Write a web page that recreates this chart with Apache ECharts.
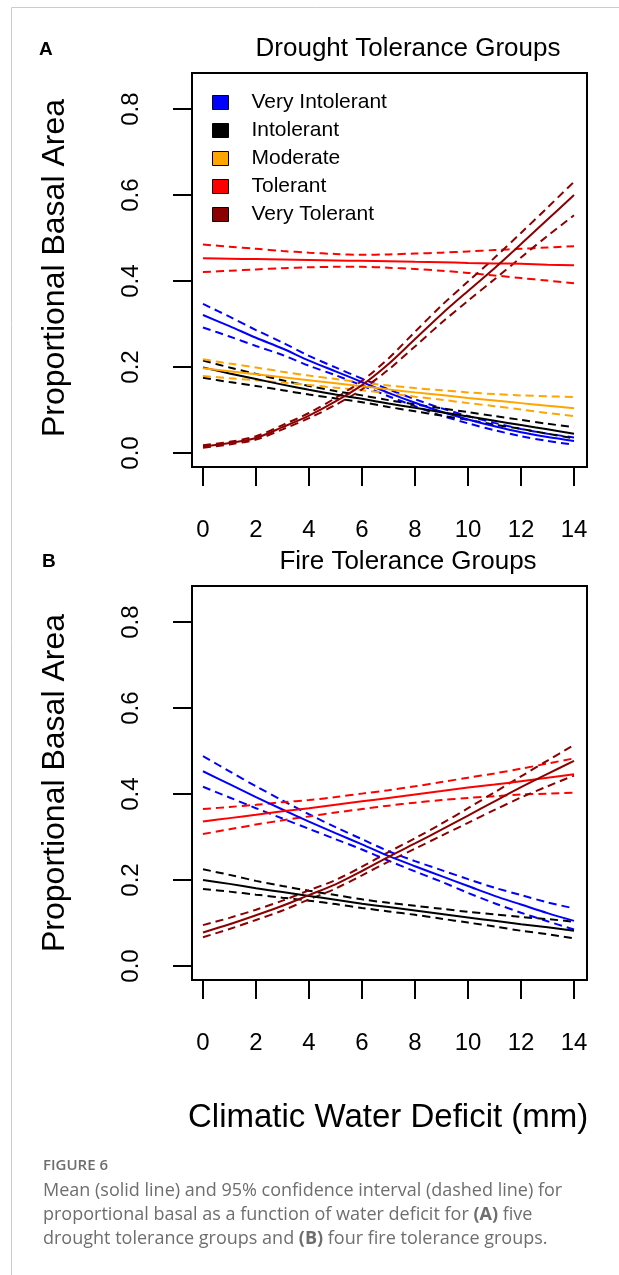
<!DOCTYPE html>
<html>
<head>
<meta charset="utf-8">
<script src="https://cdn.jsdelivr.net/npm/echarts@6/dist/echarts.min.js"></script>
<style>
  html, body { margin: 0; padding: 0; background: #ffffff; }
  #chart { width: 619px; height: 1275px; }
</style>
</head>
<body>
<div id="chart"></div>
<script>
// Climatic water deficit (mm) at which the fitted curves are evaluated
const deficit = [0, 1, 2, 3, 4, 5, 6, 7, 8, 9, 10, 11, 12, 13, 14];
const xTicks = [0, 2, 4, 6, 8, 10, 12, 14];
const yTicks = [0, 0.2, 0.4, 0.6, 0.8];

const droughtGroups = ['Very Intolerant', 'Intolerant', 'Moderate', 'Tolerant', 'Very Tolerant'];
const fireGroups = ['Very Intolerant', 'Intolerant', 'Tolerant', 'Very Tolerant'];

// (A) drought tolerance groups: mean and 95% CI of proportional basal area
const droughtVeryIntolerantMean  = [0.321, 0.295, 0.268, 0.243, 0.215, 0.190, 0.165, 0.140, 0.117, 0.096, 0.078, 0.062, 0.048, 0.037, 0.028];
const droughtVeryIntolerantUpper = [0.347, 0.317, 0.286, 0.257, 0.226, 0.199, 0.173, 0.148, 0.125, 0.104, 0.086, 0.070, 0.056, 0.045, 0.036];
const droughtVeryIntolerantLower = [0.292, 0.271, 0.249, 0.228, 0.203, 0.181, 0.157, 0.132, 0.109, 0.087, 0.069, 0.053, 0.039, 0.028, 0.019];

const droughtIntolerantMean  = [0.199, 0.185, 0.172, 0.159, 0.147, 0.136, 0.126, 0.115, 0.105, 0.095, 0.085, 0.075, 0.065, 0.055, 0.045];
const droughtIntolerantUpper = [0.215, 0.199, 0.184, 0.169, 0.156, 0.144, 0.134, 0.123, 0.113, 0.104, 0.095, 0.086, 0.077, 0.068, 0.060];
const droughtIntolerantLower = [0.175, 0.165, 0.156, 0.146, 0.136, 0.127, 0.118, 0.107, 0.097, 0.087, 0.077, 0.066, 0.056, 0.045, 0.034];

const droughtModerateMean  = [0.197, 0.190, 0.183, 0.176, 0.169, 0.162, 0.155, 0.148, 0.141, 0.135, 0.128, 0.122, 0.116, 0.110, 0.104];
const droughtModerateUpper = [0.218, 0.208, 0.199, 0.189, 0.180, 0.172, 0.164, 0.157, 0.151, 0.146, 0.141, 0.137, 0.134, 0.132, 0.130];
const droughtModerateLower = [0.179, 0.174, 0.169, 0.164, 0.158, 0.152, 0.146, 0.139, 0.131, 0.124, 0.116, 0.109, 0.101, 0.093, 0.086];

const droughtTolerantMean  = [0.453, 0.452, 0.451, 0.450, 0.449, 0.448, 0.447, 0.446, 0.445, 0.444, 0.442, 0.441, 0.440, 0.438, 0.437];
const droughtTolerantUpper = [0.485, 0.480, 0.475, 0.470, 0.466, 0.463, 0.461, 0.462, 0.464, 0.466, 0.469, 0.472, 0.475, 0.478, 0.481];
const droughtTolerantLower = [0.421, 0.424, 0.427, 0.430, 0.432, 0.433, 0.433, 0.431, 0.428, 0.424, 0.419, 0.413, 0.407, 0.401, 0.395];

const droughtVeryTolerantMean  = [0.015, 0.023, 0.035, 0.060, 0.087, 0.120, 0.158, 0.207, 0.265, 0.323, 0.377, 0.430, 0.486, 0.543, 0.600];
const droughtVeryTolerantUpper = [0.018, 0.026, 0.039, 0.065, 0.093, 0.128, 0.168, 0.220, 0.282, 0.343, 0.399, 0.454, 0.512, 0.571, 0.631];
const droughtVeryTolerantLower = [0.012, 0.020, 0.031, 0.055, 0.081, 0.112, 0.148, 0.194, 0.248, 0.303, 0.354, 0.404, 0.455, 0.505, 0.553];

// (B) fire tolerance groups
const fireVeryIntolerantMean  = [0.453, 0.423, 0.393, 0.364, 0.336, 0.309, 0.283, 0.256, 0.232, 0.209, 0.186, 0.163, 0.143, 0.123, 0.105];
const fireVeryIntolerantUpper = [0.488, 0.453, 0.418, 0.385, 0.353, 0.323, 0.295, 0.267, 0.244, 0.223, 0.202, 0.182, 0.165, 0.148, 0.134];
const fireVeryIntolerantLower = [0.417, 0.392, 0.367, 0.343, 0.319, 0.295, 0.271, 0.245, 0.220, 0.196, 0.170, 0.146, 0.124, 0.104, 0.085];

const fireIntolerantMean  = [0.200, 0.191, 0.181, 0.172, 0.163, 0.154, 0.145, 0.137, 0.129, 0.121, 0.113, 0.105, 0.097, 0.090, 0.082];
const fireIntolerantUpper = [0.225, 0.212, 0.198, 0.186, 0.175, 0.165, 0.155, 0.147, 0.140, 0.133, 0.126, 0.120, 0.114, 0.109, 0.103];
const fireIntolerantLower = [0.179, 0.173, 0.166, 0.159, 0.152, 0.144, 0.135, 0.127, 0.119, 0.110, 0.101, 0.092, 0.082, 0.074, 0.064];

const fireTolerantMean  = [0.336, 0.344, 0.352, 0.360, 0.367, 0.375, 0.383, 0.391, 0.399, 0.407, 0.415, 0.422, 0.430, 0.438, 0.446];
const fireTolerantUpper = [0.365, 0.370, 0.375, 0.381, 0.386, 0.393, 0.401, 0.409, 0.418, 0.428, 0.438, 0.448, 0.459, 0.471, 0.483];
const fireTolerantLower = [0.307, 0.318, 0.329, 0.339, 0.348, 0.357, 0.365, 0.373, 0.380, 0.386, 0.391, 0.395, 0.399, 0.401, 0.403];

const fireVeryTolerantMean  = [0.078, 0.097, 0.118, 0.140, 0.165, 0.190, 0.221, 0.254, 0.285, 0.317, 0.350, 0.383, 0.416, 0.447, 0.477];
const fireVeryTolerantUpper = [0.095, 0.112, 0.131, 0.152, 0.176, 0.200, 0.231, 0.265, 0.297, 0.331, 0.367, 0.404, 0.441, 0.478, 0.514];
const fireVeryTolerantLower = [0.067, 0.086, 0.107, 0.129, 0.155, 0.180, 0.211, 0.243, 0.273, 0.303, 0.333, 0.363, 0.392, 0.418, 0.443];

const groupColors = {
  'Very Intolerant': '#0000FF',
  'Intolerant': '#000000',
  'Moderate': '#FFA500',
  'Tolerant': '#FF0000',
  'Very Tolerant': '#8B0000'
};

const FONT = '"Liberation Sans", Arial, sans-serif';
const CAPTION_FONT = '"Open Sans", "Noto Sans", sans-serif';

function pairs(values) {
  return deficit.map((x, i) => [x, values[i]]);
}

// One solid mean curve plus two dashed confidence limits for a group
function groupSeries(panel, name, mean, upper, lower) {
  const color = groupColors[name];
  const base = {
    type: 'line',
    xAxisIndex: panel,
    yAxisIndex: panel,
    showSymbol: false,
    symbol: 'none',
    smooth: 0.3,
    silent: true,
    animation: false,
    itemStyle: { color: color }
  };
  return [
    Object.assign({}, base, { name: name, data: pairs(mean), z: 3,
      lineStyle: { color: color, width: 2, type: 'solid' } }),
    Object.assign({}, base, { name: name + ' upper 95% CI', data: pairs(upper), z: 2,
      lineStyle: { color: color, width: 2, type: [8, 5] } }),
    Object.assign({}, base, { name: name + ' lower 95% CI', data: pairs(lower), z: 2,
      lineStyle: { color: color, width: 2, type: [8, 5] } })
  ];
}

const series = [].concat(
  groupSeries(0, 'Very Intolerant', droughtVeryIntolerantMean, droughtVeryIntolerantUpper, droughtVeryIntolerantLower),
  groupSeries(0, 'Intolerant', droughtIntolerantMean, droughtIntolerantUpper, droughtIntolerantLower),
  groupSeries(0, 'Moderate', droughtModerateMean, droughtModerateUpper, droughtModerateLower),
  groupSeries(0, 'Tolerant', droughtTolerantMean, droughtTolerantUpper, droughtTolerantLower),
  groupSeries(0, 'Very Tolerant', droughtVeryTolerantMean, droughtVeryTolerantUpper, droughtVeryTolerantLower),
  groupSeries(1, 'Very Intolerant', fireVeryIntolerantMean, fireVeryIntolerantUpper, fireVeryIntolerantLower),
  groupSeries(1, 'Intolerant', fireIntolerantMean, fireIntolerantUpper, fireIntolerantLower),
  groupSeries(1, 'Tolerant', fireTolerantMean, fireTolerantUpper, fireTolerantLower),
  groupSeries(1, 'Very Tolerant', fireVeryTolerantMean, fireVeryTolerantUpper, fireVeryTolerantLower)
);

function makeXAxis(idx) {
  return {
    type: 'value', gridIndex: idx, min: -0.415, max: 14.49,
    splitLine: { show: false },
    axisLine: { show: false, onZero: false },
    axisTick: { show: true, customValues: xTicks, length: 19, lineStyle: { color: '#000', width: 2 } },
    axisLabel: { show: true, customValues: xTicks, margin: 51, fontSize: 24, fontFamily: FONT, color: '#000' }
  };
}

function makeYAxis(idx) {
  return {
    type: 'value', gridIndex: idx, min: -0.0326, max: 0.884,
    splitLine: { show: false },
    axisLine: { show: false, onZero: false },
    axisTick: { show: true, customValues: yTicks, length: 19, lineStyle: { color: '#000', width: 2 } },
    axisLabel: { show: true, customValues: yTicks, rotate: 90, margin: 49, fontSize: 24, fontFamily: FONT, color: '#000',
      formatter: v => Number(v).toFixed(1) }
  };
}

function gridBox(top) {
  return {
    left: 192, top: top, width: 395, height: 394,
    show: true, borderColor: '#000', borderWidth: 2, backgroundColor: 'transparent',
    containLabel: false, outerBoundsMode: 'none'
  };
}

const titleStyle = { fontSize: 26, fontFamily: FONT, fill: '#000', align: 'center', verticalAlign: 'middle' };
const captionBase = { fontSize: 18, fontFamily: CAPTION_FONT, fill: '#6e6e6e', align: 'left', verticalAlign: 'middle' };
const captionRich = { b: { fontSize: 18, fontFamily: CAPTION_FONT, fill: '#6e6e6e', fontWeight: 'bold' } };

const option = {
  animation: false,
  backgroundColor: '#ffffff',
  grid: [gridBox(73), gridBox(586)],
  xAxis: [makeXAxis(0), makeXAxis(1)],
  yAxis: [makeYAxis(0), makeYAxis(1)],
  legend: {
    data: droughtGroups,
    orient: 'vertical',
    left: 212, top: 92,
    padding: 0,
    itemWidth: 16, itemHeight: 14, itemGap: 7,
    icon: 'rect',
    selectedMode: false,
    itemStyle: { borderColor: '#000', borderWidth: 1 },
    textStyle: { fontSize: 21, fontFamily: FONT, color: '#000', lineHeight: 21, padding: [0, 0, 0, 18] }
  },
  graphic: [
    { type: 'line', shape: { x1: 11.5, y1: 7.5, x2: 619, y2: 7.5 }, style: { stroke: '#cccccc', lineWidth: 1 }, silent: true },
    { type: 'line', shape: { x1: 11.5, y1: 7.5, x2: 11.5, y2: 1275 }, style: { stroke: '#cccccc', lineWidth: 1 }, silent: true },
    { type: 'text', x: 39, y: 50, style: { text: 'A', fontSize: 19, fontWeight: 'bold', fontFamily: FONT, fill: '#000', verticalAlign: 'middle' } },
    { type: 'text', x: 42, y: 562, style: { text: 'B', fontSize: 19, fontWeight: 'bold', fontFamily: FONT, fill: '#000', verticalAlign: 'middle' } },
    { type: 'text', x: 408, y: 49, style: Object.assign({ text: 'Drought Tolerance Groups' }, titleStyle) },
    { type: 'text', x: 408, y: 562, style: Object.assign({ text: 'Fire Tolerance Groups' }, titleStyle) },
    { type: 'text', x: 55, y: 268, rotation: Math.PI / 2,
      style: { text: 'Proportional Basal Area', fontSize: 32, fontFamily: FONT, fill: '#000', align: 'center', verticalAlign: 'middle' } },
    { type: 'text', x: 55, y: 783, rotation: Math.PI / 2,
      style: { text: 'Proportional Basal Area', fontSize: 32, fontFamily: FONT, fill: '#000', align: 'center', verticalAlign: 'middle' } },
    { type: 'text', x: 188, y: 1118,
      style: { text: 'Climatic Water Deficit (mm)', fontSize: 33, fontFamily: FONT, fill: '#000', align: 'left', verticalAlign: 'middle' } },
    { type: 'text', x: 43, y: 1166,
      style: { text: 'FIGURE 6', fontSize: 15, fontWeight: 600, fontFamily: CAPTION_FONT, fill: '#6e6e6e', verticalAlign: 'middle' } },
    { type: 'text', x: 43, y: 1191,
      style: Object.assign({ text: 'Mean (solid line) and 95% confidence interval (dashed line) for' }, captionBase) },
    { type: 'text', x: 43, y: 1215,
      style: Object.assign({ text: 'proportional basal as a function of water deficit for {b|(A)} five', rich: captionRich }, captionBase) },
    { type: 'text', x: 43, y: 1239,
      style: Object.assign({ text: 'drought tolerance groups and {b|(B)} four fire tolerance groups.', rich: captionRich }, captionBase) }
  ],
  series: series
};

const chart = echarts.init(document.getElementById('chart'), null, { renderer: 'canvas' });
chart.setOption(option);
</script>
</body>
</html>
